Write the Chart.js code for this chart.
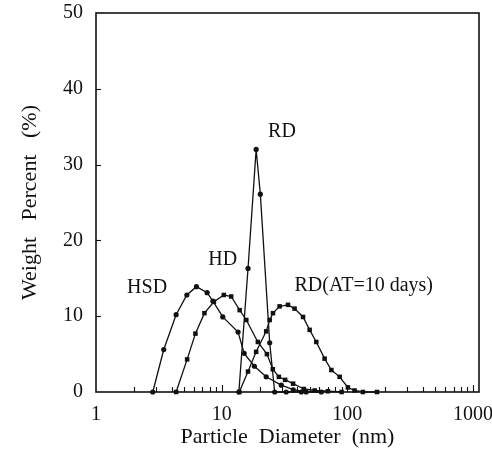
<!DOCTYPE html>
<html>
<head>
<meta charset="utf-8">
<title>Weight Percent vs Particle Diameter</title>
<script src="https://cdn.jsdelivr.net/npm/chart.js@4.4.1/dist/chart.umd.min.js"></script>
<style>
html,body{margin:0;padding:0;background:#ffffff;}
#box{width:492px;height:458px;position:relative;}
</style>
</head>
<body>
<div id="box"><canvas id="chart" width="492" height="458"></canvas></div>
<script>
// ---- data ----
const hsdDiameter = [2.83, 3.46, 4.34, 5.28, 6.30, 7.66, 8.51, 10.2, 13.5, 15.1, 18.2, 22.6, 29.8, 37.1, 47.0];
const hsdWeight   = [0,    5.6,  10.2, 12.8, 13.9, 13.1, 12.0, 9.9,  7.9,  5.1,  3.4,  2.0,  0.9,  0.3,  0];

const hdDiameter = [4.34, 5.31, 6.18, 7.29, 8.67, 10.4, 11.9, 13.9, 15.7, 19.4, 22.9, 25.5, 28.5, 32.0, 37.0, 45.0, 55.0, 70.0, 90.0];
const hdWeight   = [0,    4.3,  7.7,  10.4, 11.9, 12.8, 12.6, 10.8, 9.5,  6.6,  5.0,  3.0,  2.0,  1.6,  1.1,  0.4,  0.2,  0.1,  0];

const rdDiameter = [13.7, 16.2, 18.8, 20.3, 24.1, 26.4, 32.6, 43.0, 62.0];
const rdWeight   = [0,    16.3, 32.0, 26.1, 6.5,  0,    0,    0,    0];

const atDiameter = [13.8, 16.2, 18.8, 22.6, 24.1, 25.6, 28.9, 33.7, 38.0, 44.4, 50.1, 56.6, 65.9, 74.6, 86.8, 101, 114, 133, 172];
const atWeight   = [0,    2.7,  5.3,  8.0,  9.5,  10.4, 11.3, 11.5, 11.0, 9.9,  8.2,  6.6,  4.4,  2.9,  2.0,  0.6, 0.2, 0,   0];

const xTickLabels = [1, 10, 100, 1000];
const yTickLabels = [0, 10, 20, 30, 40, 50];
const seriesNames = ['HSD', 'HD', 'RD', 'RD(AT=10 days)'];
// where each series name sits, in data coordinates (diameter, weight %)
const nameDiameter = [2.55, 10.2, 30.2, 135];
const nameWeight   = [13.7, 17.5, 34.3, 14.0];

const FAMILY = "'Liberation Serif', 'DejaVu Serif', serif";
const INK = '#111111';

function pairs(xs, ys) { return xs.map((d, i) => ({ x: d, y: ys[i] })); }

const paperPlugin = {
  id: 'paper',
  afterDatasetsDraw(chart) {
    const { ctx, chartArea: a, scales: { x, y } } = chart;
    ctx.save();
    ctx.strokeStyle = INK;
    ctx.lineWidth = 1.6;
    ctx.strokeRect(a.left, a.top, a.right - a.left, a.bottom - a.top);
    ctx.lineWidth = 1.1;
    // inward minor ticks on the log axis
    for (let dec = 1; dec <= 1000; dec *= 10) {
      for (let m = 1; m <= 9; m++) {
        const v = m * dec;
        if (v <= x.min || v > x.max) continue;
        const px = Math.round(x.getPixelForValue(v)) + 0.5;
        ctx.beginPath();
        ctx.moveTo(px, a.bottom);
        ctx.lineTo(px, a.bottom - (m === 1 ? 7 : 5));
        ctx.stroke();
      }
    }
    // inward ticks on the weight axis
    yTickLabels.forEach(v => {
      if (v <= y.min || v >= y.max) return;
      const py = Math.round(y.getPixelForValue(v)) + 0.5;
      ctx.beginPath();
      ctx.moveTo(a.left, py);
      ctx.lineTo(a.left + 5, py);
      ctx.stroke();
    });
    // series names
    ctx.fillStyle = INK;
    ctx.font = '20px ' + FAMILY;
    ctx.textAlign = 'center';
    ctx.textBaseline = 'middle';
    seriesNames.forEach((n, i) => {
      ctx.fillText(n, x.getPixelForValue(nameDiameter[i]), y.getPixelForValue(nameWeight[i]));
    });
    ctx.restore();
  }
};

function ds(label, xs, ys, style, r) {
  return {
    label,
    data: pairs(xs, ys),
    showLine: true,
    borderColor: INK,
    backgroundColor: INK,
    borderWidth: 1.3,
    pointStyle: style,
    pointRadius: r,
    pointBorderWidth: 0,
    tension: 0,
    clip: false
  };
}

new Chart(document.getElementById('chart'), {
  type: 'scatter',
  data: {
    datasets: [
      ds('HSD', hsdDiameter, hsdWeight, 'circle', 2.6),
      ds('HD', hdDiameter, hdWeight, 'rect', 3.2),
      ds('RD', rdDiameter, rdWeight, 'circle', 2.6),
      ds('RD(AT=10 days)', atDiameter, atWeight, 'rect', 3.2)
    ]
  },
  options: {
    responsive: false,
    animation: false,
    devicePixelRatio: 1,
    layout: { padding: { top: 13, right: 13, left: 0, bottom: 0 } },
    plugins: { legend: { display: false }, tooltip: { enabled: false } },
    scales: {
      x: {
        type: 'logarithmic',
        min: 1,
        max: 1115,
        grid: { display: false },
        border: { display: false },
        ticks: {
          autoSkip: false,
          maxRotation: 0,
          minRotation: 0,
          padding: 3,
          color: INK,
          font: { family: FAMILY, size: 20 },
          callback: (v) => {
            const hit = xTickLabels.find(t => Math.abs(t - v) < 1e-6 * t);
            return hit !== undefined ? String(hit) : '';
          }
        },
        title: {
          display: true,
          text: 'Particle  Diameter  (nm)',
          color: INK,
          font: { family: FAMILY, size: 22 },
          padding: { top: 0, bottom: 8 }
        },
        afterFit(s) { s.height = 66; s.paddingLeft = 0; s.paddingRight = 0; }
      },
      y: {
        min: 0,
        max: 50,
        grid: { display: false },
        border: { display: false },
        ticks: {
          stepSize: 10,
          padding: 5,
          color: INK,
          font: { family: FAMILY, size: 20 },
          callback: (v) => yTickLabels.includes(v) ? String(v) : ''
        },
        title: {
          display: true,
          text: 'Weight   Percent   (%)',
          color: INK,
          font: { family: FAMILY, size: 22 },
          padding: { top: 17, bottom: 0 }
        },
        afterFit(s) { s.width = 96; s.paddingTop = 0; s.paddingBottom = 0; }
      }
    }
  },
  plugins: [paperPlugin]
});
</script>
</body>
</html>
